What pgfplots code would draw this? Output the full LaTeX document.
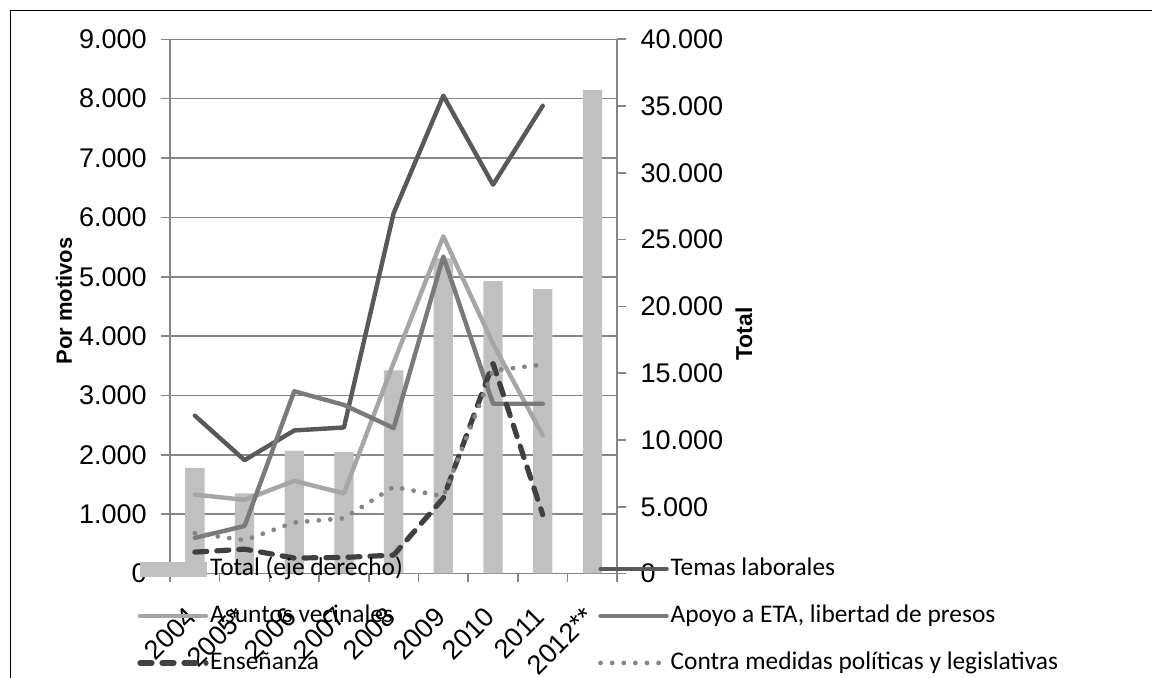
\documentclass[border=0pt]{standalone}
\usepackage{pgfplots}
\pgfplotsset{compat=1.18}
\usepackage{fontspec}
\setmainfont{Liberation Sans}
\newfontfamily\calibri{Carlito}
\definecolor{barcol}{HTML}{C0C0C0}
\definecolor{gridcol}{HTML}{868686}
\definecolor{temas}{HTML}{595959}
\definecolor{asuntos}{HTML}{A6A6A6}
\definecolor{apoyo}{HTML}{7A7A7A}
\definecolor{ensen}{HTML}{404040}
\definecolor{contra}{HTML}{858585}
\pgfplotsset{
  base/.style={scale only axis, width=223.65pt, height=267.1pt,
    at={(85pt,52.25pt)}, anchor=south west, xmin=-0.5, xmax=8.5},
  serie/.style={line width=2.2pt, line cap=round, line join=round},
}
\begin{document}
\begin{tikzpicture}
\useasboundingbox (0,0) rectangle (582pt,339pt);
\draw[line width=0.7pt] (5.35pt,0pt) -- (5.35pt,333.65pt) -- (576pt,333.65pt);

% axis A: grid, left scale, category labels
\begin{axis}[base, ymin=0, ymax=9000, ytick={0,1000,...,9000},
  ymajorgrids, grid style={line width=0.8pt, color=gridcol},
  axis x line=bottom, axis y line=left,
  axis line style={-, line width=0.8pt, color=gridcol},
  tick align=outside, major tick length=4.5pt,
  ytick style={line width=0.8pt, color=gridcol},
  xtick={0,...,8},
  xticklabels={2004,2005*,2006,2007,2008,2009,2010,2011,2012**},
  xtick style={draw=none},
  scaled y ticks=false,
  /pgf/number format/fixed, /pgf/number format/precision=0,
  /pgf/number format/1000 sep={.},
  /pgf/number format/assume math mode=true,
  yticklabel style={font=\fontsize{13.5}{16}\selectfont, anchor=east, inner sep=0pt, xshift=-7pt},
  xticklabel style={font=\fontsize{13.5}{16}\selectfont, rotate=45, anchor=north east, inner sep=0pt, xshift=-11.5pt, yshift=-4.5pt},
  ylabel={Por motivos},
  every axis y label/.style={at={(axis description cs:-0.237,0.51)}, rotate=90, anchor=center, font=\bfseries\fontsize{11}{13}\selectfont},
]
\end{axis}

% axis B: bars, right scale
\begin{axis}[base, ymin=0, ymax=40000, ytick={0,5000,...,40000},
  axis x line=bottom, axis y line=right,
  axis line style={-, line width=0.8pt, color=gridcol},
  tick align=outside, major tick length=4.5pt,
  tick style={line width=0.8pt, color=gridcol},
  xtick={-0.5,0.5,...,8.5}, xticklabels={},
  scaled y ticks=false,
  /pgf/number format/fixed, /pgf/number format/precision=0,
  /pgf/number format/1000 sep={.},
  /pgf/number format/assume math mode=true,
  yticklabel style={font=\fontsize{13.5}{16}\selectfont, anchor=west, inner sep=0pt, xshift=7pt},
  ylabel={Total},
  every axis y label/.style={at={(axis description cs:1.283,0.448)}, rotate=90, anchor=center, font=\bfseries\fontsize{11.5}{13}\selectfont},
  ybar, bar width=9.65pt, bar shift=0pt,
]
\addplot[fill=barcol, draw=none] coordinates {
 (0,7900) (1,6000) (2,9200) (3,9100) (4,15200) (5,23600) (6,21900) (7,21300) (8,36200)};
\end{axis}

% axis C: lines and legend
\begin{axis}[base, ymin=0, ymax=9000, hide axis,
  legend columns=2, legend cell align=left,
  legend image code/.code={\draw[#1] (0pt,0pt) -- (33pt,0pt);},
  legend style={draw=none, fill=none, at={(-0.0738,-0.0795)}, anchor=west,
    inner sep=0pt, font=\calibri\fontsize{12.7}{15}\selectfont,
    nodes={inner sep=0pt, text height=9.5pt, text depth=3pt},
    /tikz/every odd column/.append style={column sep=0.8pt},
    row sep=11pt},
]
\addlegendimage{legend image code/.code={\fill[barcol] (0pt,-3.5pt) rectangle (33pt,3.5pt);}}
\addlegendentry{\makebox[194pt][l]{Total (eje derecho)}}
\addplot[serie, color=temas] coordinates {
 (0,2660) (1,1910) (2,2410) (3,2460) (4,6070) (5,8050) (6,6550) (7,7880)};
\addlegendentry{Temas laborales}
\addplot[serie, color=asuntos] coordinates {
 (0,1330) (1,1240) (2,1560) (3,1350) (4,3550) (5,5680) (6,3870) (7,2330)};
\addlegendentry{\makebox[194pt][l]{Asuntos vecinales}}
\addplot[serie, color=apoyo] coordinates {
 (0,600) (1,800) (2,3070) (3,2840) (4,2450) (5,5340) (6,2860) (7,2860)};
\addlegendentry{Apoyo a ETA, libertad de presos}
\addplot[serie, line width=2.6pt, color=ensen, dash pattern=on 6pt off 5pt] coordinates {
 (0,360) (1,410) (2,260) (3,270) (4,310) (5,1270) (6,3540) (7,990)};
\addlegendentry{\makebox[194pt][l]{Enseñanza}}
\addplot[serie, line width=2.4pt, color=contra, dash pattern=on 0pt off 5.8pt] coordinates {
 (0,680) (1,560) (2,860) (3,930) (4,1460) (5,1300) (6,3420) (7,3520)};
\addlegendentry{Contra medidas políticas y legislativas}
\end{axis}
\end{tikzpicture}
\end{document}
